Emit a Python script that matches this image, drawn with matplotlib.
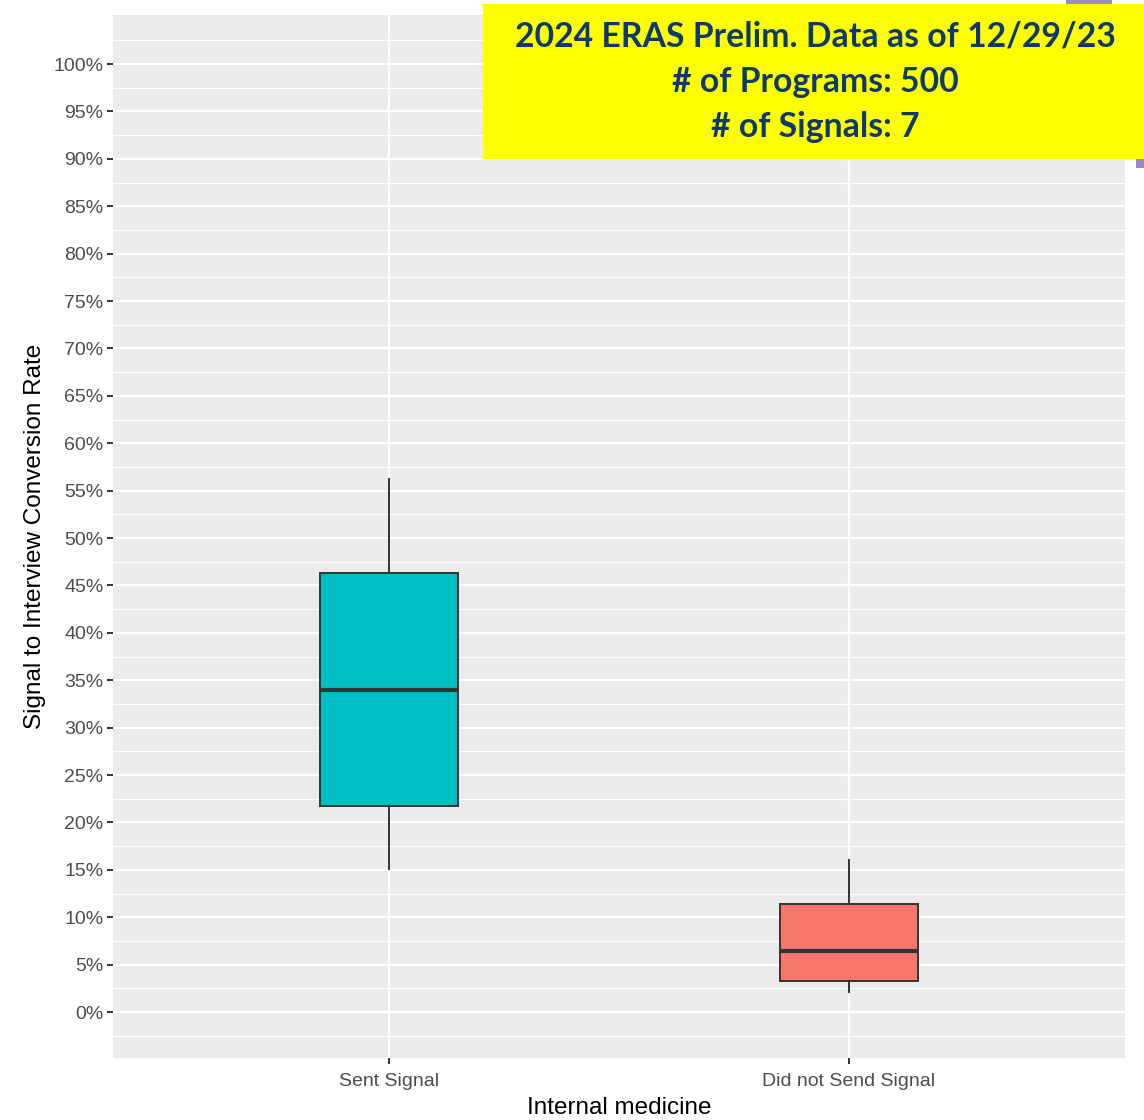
import matplotlib
matplotlib.use("Agg")
import matplotlib.pyplot as plt
from matplotlib.patches import Rectangle
import numpy as np

categories = ["Sent Signal", "Did not Send Signal"]
whislo = [15.1, 2.1]
q1 = [21.7, 3.3]
median = [34.0, 6.4]
q3 = [46.3, 11.4]
whishi = [56.2, 16.0]
fills = ["#00BFC4", "#F8766D"]
ytick_vals = list(range(0, 101, 5))
ytick_labels = [f"{v}%" for v in ytick_vals]
title_lines = ["2024 ERAS Prelim. Data as of 12/29/23", "# of Programs: 500", "# of Signals: 7"]

W, H = 1144, 1120
fig = plt.figure(figsize=(W / 100, H / 100), dpi=100)
ax = fig.add_axes([113 / W, 1 - 1058 / H, (1125 - 113) / W, (1058 - 15) / H])
ax.set_facecolor("#EBEBEB")
for s in ax.spines.values():
    s.set_visible(False)

ax.set_xlim(0.4, 2.6)
ax.set_ylim(-4.85, 105.17)

# grid
for v in np.arange(-2.5, 105, 5):
    ax.axhline(v, color="white", lw=0.9, zorder=0.5)
for v in ytick_vals:
    ax.axhline(v, color="white", lw=1.6, zorder=0.6)
positions = [1, 2]
for p in positions:
    ax.axvline(p, color="white", lw=1.6, zorder=0.6)

stats = []
for i, c in enumerate(categories):
    stats.append(dict(label=c, whislo=whislo[i], q1=q1[i], med=median[i], q3=q3[i], whishi=whishi[i], fliers=[]))

bp = ax.bxp(stats, positions=positions, widths=0.3, patch_artist=True, showcaps=False,
            boxprops=dict(edgecolor="#333333", linewidth=1.4),
            whiskerprops=dict(color="#333333", linewidth=1.4),
            medianprops=dict(color="#333333", linewidth=3.0, solid_capstyle="butt"),
            manage_ticks=False, zorder=2)
for patch, fc in zip(bp["boxes"], fills):
    patch.set_facecolor(fc)

ax.set_xticks(positions)
ax.set_xticklabels(categories)
ax.set_yticks(ytick_vals)
ax.set_yticklabels(ytick_labels)
ax.tick_params(axis="both", colors="#333333", length=4, width=1.4, labelsize=14, labelcolor="#4D4D4D", pad=3)
ax.tick_params(axis="x", pad=7)
for lab in ax.get_xticklabels() + ax.get_yticklabels():
    lab.set_family(["Liberation Sans", "DejaVu Sans"])

ax.set_xlabel("Internal medicine", fontsize=17.5, family=["Liberation Sans", "DejaVu Sans"], labelpad=5)
ax.set_ylabel("Signal to Interview Conversion Rate", fontsize=17.5, family=["Liberation Sans", "DejaVu Sans"], labelpad=5)

# decoration overlay
fig.patches.append(Rectangle((1066 / W, 1 - 5 / H), (1112 - 1066) / W, 5 / H, transform=fig.transFigure,
                             facecolor="#9B8AC4", edgecolor="none", zorder=5))
fig.patches.append(Rectangle((1136 / W, 1 - 168 / H), (W - 1136) / W, 20 / H, transform=fig.transFigure,
                             facecolor="#9B8AC4", edgecolor="none", zorder=5))
fig.patches.append(Rectangle((483 / W, 1 - 159 / H), (W - 483) / W, (159 - 4) / H, transform=fig.transFigure,
                             facecolor="#FFFF00", edgecolor="none", zorder=6))
ys = [37, 82, 127]
for t, yy in zip(title_lines, ys):
    fig.text(815 / W, 1 - yy / H, t, ha="center", va="center", fontsize=24.3, fontweight="bold",
             color="#0D3A6B", family=["Lato", "DejaVu Sans"], zorder=7)

fig.savefig("out.png", dpi=100)
